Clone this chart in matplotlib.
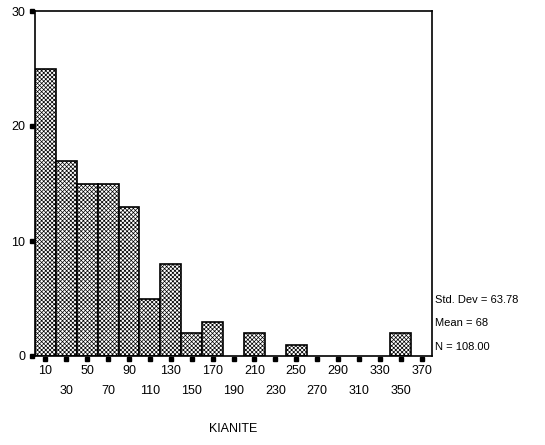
import matplotlib.pyplot as plt
import numpy as np

plt.rcParams['font.family'] = ['Liberation Sans', 'DejaVu Sans']
plt.rcParams['hatch.linewidth'] = 0.5

# histogram of KIANITE, bins of width 20 centred on 10, 30, ... 370
bin_centers = [10, 30, 50, 70, 90, 110, 130, 150, 170, 190,
               210, 230, 250, 270, 290, 310, 330, 350, 370]
counts = [25, 17, 15, 15, 13, 5, 8, 2, 3, 0,
          2, 0, 1, 0, 0, 0, 0, 2, 0]
stats_lines = ["Std. Dev = 63.78", "Mean = 68", "N = 108.00"]
y_ticks = [0, 10, 20, 30]

fig = plt.figure(figsize=(5.45, 4.45), dpi=100)
ax = fig.add_axes([35 / 545, 1 - 356 / 445, 397 / 545, 345 / 445])

for c, n in zip(bin_centers, counts):
    if n > 0:
        ax.bar(c, n, width=20, color="white", edgecolor="black",
               hatch="xxxxxxxx", linewidth=1.2)

ax.set_xlim(0, 380)
ax.set_ylim(0, 30)
ax.set_yticks(y_ticks)
ax.set_xticks(bin_centers)
ax.set_xticklabels([""] * len(bin_centers))
ax.tick_params(length=0, labelsize=9)
for s in ax.spines.values():
    s.set_linewidth(1.2)

# small dot markers in place of tick marks
ax.plot(bin_centers, [-0.25] * len(bin_centers), "s", color="black",
        markersize=2.2, clip_on=False)
ax.plot([-3.2] * len(y_ticks), y_ticks, "s", color="black",
        markersize=2.2, clip_on=False)

# x labels staggered on two rows
for i, c in enumerate(bin_centers):
    row = 0 if i % 2 == 0 else 1
    ax.annotate(str(c), (c, 0), xycoords=("data", "axes fraction"),
                xytext=(0, -11 - 14.5 * row), textcoords="offset points",
                ha="center", va="center", fontsize=9)

ax.set_yticklabels([str(t) for t in y_ticks])
ax.tick_params(axis="y", pad=7)

for i, line in enumerate(stats_lines):
    fig.text(435 / 545, 1 - (300 + 23.5 * i) / 445, line,
             ha="left", va="center", fontsize=8)

fig.text(233 / 545, 1 - 429 / 445, "KIANITE", ha="center", va="center",
         fontsize=9)

fig.savefig("out.png", dpi=100)
